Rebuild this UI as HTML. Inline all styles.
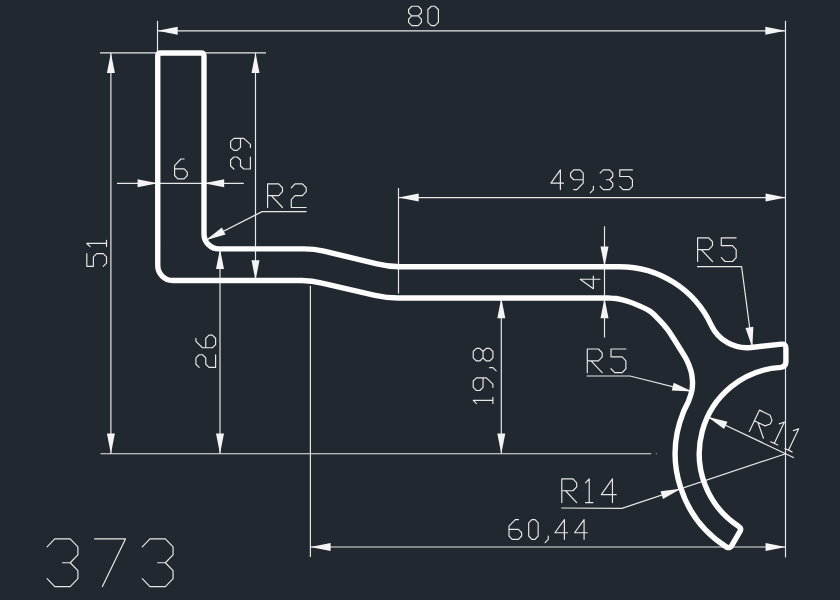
<!DOCTYPE html>
<html><head><meta charset="utf-8"><title>373</title>
<style>html,body{margin:0;padding:0;background:#212830;overflow:hidden;font-family:"Liberation Sans",sans-serif}svg{display:block}</style></head>
<body><svg width="840" height="600" viewBox="0 0 840 600">
<rect width="840" height="600" fill="#212830"/>
<line x1="157.5" y1="20.8" x2="157.5" y2="52" stroke="#e8e8e8" stroke-width="1.18"/>
<line x1="785.5" y1="20.8" x2="785.5" y2="557.5" stroke="#e8e8e8" stroke-width="1.18"/>
<line x1="100" y1="52.8" x2="266" y2="52.8" stroke="#e8e8e8" stroke-width="1.18"/>
<line x1="100.5" y1="453.75" x2="651.25" y2="453.75" stroke="#e8e8e8" stroke-width="1.18"/>
<circle cx="656.3" cy="453.75" r="0.55" fill="#e8e8e8"/>
<line x1="398.5" y1="188" x2="398.5" y2="293.5" stroke="#e8e8e8" stroke-width="1.18"/>
<line x1="310.4" y1="285.8" x2="310.4" y2="557" stroke="#e8e8e8" stroke-width="1.18"/>
<line x1="157.5" y1="30.85" x2="785.5" y2="30.85" stroke="#e8e8e8" stroke-width="1.18"/>
<polygon points="157.50,30.85 177.70,34.85 177.70,26.85" fill="#f4f4f4"/>
<polygon points="785.50,30.85 765.30,26.85 765.30,34.85" fill="#f4f4f4"/>
<line x1="110.9" y1="52.8" x2="110.9" y2="453.75" stroke="#e8e8e8" stroke-width="1.18"/>
<polygon points="110.90,52.80 106.90,73.00 114.90,73.00" fill="#f4f4f4"/>
<polygon points="110.90,453.75 114.90,433.55 106.90,433.55" fill="#f4f4f4"/>
<line x1="255.5" y1="52.8" x2="255.5" y2="280.5" stroke="#e8e8e8" stroke-width="1.18"/>
<polygon points="255.50,52.80 251.50,73.00 259.50,73.00" fill="#f4f4f4"/>
<polygon points="255.50,280.50 259.50,260.30 251.50,260.30" fill="#f4f4f4"/>
<line x1="117" y1="183.3" x2="243.8" y2="183.3" stroke="#e8e8e8" stroke-width="1.18"/>
<polygon points="157.75,183.30 137.55,179.30 137.55,187.30" fill="#f4f4f4"/>
<polygon points="204.00,183.30 224.20,187.30 224.20,179.30" fill="#f4f4f4"/>
<line x1="220" y1="248.9" x2="220" y2="453.75" stroke="#e8e8e8" stroke-width="1.18"/>
<polygon points="220.00,248.90 216.00,269.10 224.00,269.10" fill="#f4f4f4"/>
<polygon points="220.00,453.75 224.00,433.55 216.00,433.55" fill="#f4f4f4"/>
<line x1="501.3" y1="298" x2="501.3" y2="453.75" stroke="#e8e8e8" stroke-width="1.18"/>
<polygon points="501.30,298.00 497.30,318.20 505.30,318.20" fill="#f4f4f4"/>
<polygon points="501.30,453.75 505.30,433.55 497.30,433.55" fill="#f4f4f4"/>
<line x1="604.5" y1="226.3" x2="604.5" y2="337.5" stroke="#e8e8e8" stroke-width="1.18"/>
<polygon points="604.50,266.70 608.50,246.50 600.50,246.50" fill="#f4f4f4"/>
<polygon points="604.50,298.00 600.50,318.20 608.50,318.20" fill="#f4f4f4"/>
<line x1="398.5" y1="197.6" x2="785.75" y2="197.6" stroke="#e8e8e8" stroke-width="1.18"/>
<polygon points="398.50,197.60 418.70,201.60 418.70,193.60" fill="#f4f4f4"/>
<polygon points="785.75,197.60 765.55,193.60 765.55,201.60" fill="#f4f4f4"/>
<line x1="310.4" y1="547" x2="785.75" y2="547" stroke="#e8e8e8" stroke-width="1.18"/>
<polygon points="310.40,547.00 330.60,551.00 330.60,543.00" fill="#f4f4f4"/>
<polygon points="785.75,547.00 765.55,543.00 765.55,551.00" fill="#f4f4f4"/>
<polyline points="306.5,211.7 262,211.7 205.7,240.2" fill="none" stroke="#e8e8e8" stroke-width="1.18"/>
<polygon points="205.70,240.20 225.51,234.58 221.88,227.46" fill="#f4f4f4"/>
<polyline points="697,266.6 741.6,266.6 752.3,347.4" fill="none" stroke="#e8e8e8" stroke-width="1.18"/>
<polygon points="752.30,347.40 753.40,326.84 745.48,327.97" fill="#f4f4f4"/>
<polyline points="586.7,376 630,376 692.3,391.6" fill="none" stroke="#e8e8e8" stroke-width="1.18"/>
<polygon points="692.30,391.60 673.68,382.81 671.73,390.57" fill="#f4f4f4"/>
<line x1="707.5" y1="416.8" x2="794" y2="457.7" stroke="#e8e8e8" stroke-width="1.18"/>
<polygon points="707.50,416.80 724.07,429.02 727.48,421.78" fill="#f4f4f4"/>
<polyline points="561.25,508 622,508.3 785.75,453.75" fill="none" stroke="#e8e8e8" stroke-width="1.18"/>
<polygon points="680.90,488.70 660.47,491.29 663.00,498.88" fill="#f4f4f4"/>
<path transform="translate(408.6,25.6) rotate(0)" d="M3.20,0.00 L9.60,0.00 L12.80,-3.22 L12.80,-6.44 L9.60,-9.66 L12.80,-12.88 L12.80,-16.10 L9.60,-19.32 L3.20,-19.32 L0.00,-16.10 L0.00,-12.88 L3.20,-9.66 L0.00,-6.44 L0.00,-3.22 L3.20,0.00 M3.20,-9.66 L9.60,-9.66" fill="none" stroke="#e8e8e8" stroke-width="1.18" stroke-linecap="round" stroke-linejoin="round"/>
<path transform="translate(427.9,25.6) rotate(0)" d="M0.00,-3.22 L0.00,-16.10 L3.50,-19.32 L7.00,-19.32 L10.50,-16.10 L10.50,-3.22 L7.00,0.00 L3.50,0.00 L0.00,-3.22" fill="none" stroke="#e8e8e8" stroke-width="1.18" stroke-linecap="round" stroke-linejoin="round"/>
<path transform="translate(550.9,189.6) rotate(0)" d="M9.48,0.00 L9.48,-19.68 L0.00,-6.56 L12.64,-6.56 M22.84,0.00 L26.00,0.00 L32.32,-6.56 L32.32,-16.40 L29.16,-19.68 L22.84,-19.68 L19.68,-16.40 L19.68,-13.12 L22.84,-9.84 L32.32,-9.84 M42.52,-3.28 L42.52,0.00 L39.36,3.28 M49.20,-16.40 L52.36,-19.68 L58.68,-19.68 L61.84,-16.40 L61.84,-13.12 L58.68,-9.84 L55.52,-9.84 M58.68,-9.84 L61.84,-6.56 L61.84,-3.28 L58.68,0.00 L52.36,0.00 L49.20,-3.28 M68.88,-3.28 L72.04,0.00 L78.36,0.00 L81.52,-3.28 L81.52,-9.84 L78.36,-13.12 L68.88,-13.12 L68.88,-19.68 L81.52,-19.68" fill="none" stroke="#e8e8e8" stroke-width="1.18" stroke-linecap="round" stroke-linejoin="round"/>
<path transform="translate(509.0,539.3) rotate(0)" d="M9.48,-19.68 L6.32,-19.68 L0.00,-13.12 L0.00,-3.28 L3.16,0.00 L9.48,0.00 L12.64,-3.28 L12.64,-6.56 L9.48,-9.84 L0.00,-9.84 M19.68,-3.28 L19.68,-16.40 L22.84,-19.68 L26.00,-19.68 L29.16,-16.40 L29.16,-3.28 L26.00,0.00 L22.84,0.00 L19.68,-3.28 M39.24,-3.28 L39.24,0.00 L36.08,3.28 M55.40,0.00 L55.40,-19.68 L45.92,-6.56 L58.56,-6.56 M75.08,0.00 L75.08,-19.68 L65.60,-6.56 L78.24,-6.56" fill="none" stroke="#e8e8e8" stroke-width="1.18" stroke-linecap="round" stroke-linejoin="round"/>
<path transform="translate(174.6,178.8) rotate(0)" d="M9.51,-19.80 L6.34,-19.80 L0.00,-13.20 L0.00,-3.30 L3.17,0.00 L9.51,0.00 L12.68,-3.30 L12.68,-6.60 L9.51,-9.90 L0.00,-9.90" fill="none" stroke="#e8e8e8" stroke-width="1.18" stroke-linecap="round" stroke-linejoin="round"/>
<path transform="translate(250.4,169.0) rotate(-90)" d="M0.00,-16.50 L3.00,-19.80 L9.00,-19.80 L12.00,-16.50 L12.00,-13.20 L9.00,-9.90 L3.00,-9.90 L0.00,-6.60 L0.00,0.00 L12.00,0.00 M21.60,0.00 L24.60,0.00 L30.60,-6.60 L30.60,-16.50 L27.60,-19.80 L21.60,-19.80 L18.60,-16.50 L18.60,-13.20 L21.60,-9.90 L30.60,-9.90" fill="none" stroke="#e8e8e8" stroke-width="1.18" stroke-linecap="round" stroke-linejoin="round"/>
<path transform="translate(106.5,266.3) rotate(-90)" d="M0.00,-3.28 L3.16,0.00 L9.48,0.00 L12.64,-3.28 L12.64,-9.84 L9.48,-13.12 L0.00,-13.12 L0.00,-19.68 L12.64,-19.68 M19.68,0.00 L26.00,0.00 M22.84,0.00 L22.84,-19.68 L19.68,-16.40" fill="none" stroke="#e8e8e8" stroke-width="1.18" stroke-linecap="round" stroke-linejoin="round"/>
<path transform="translate(215.6,367.4) rotate(-90)" d="M0.00,-16.40 L3.16,-19.68 L9.48,-19.68 L12.64,-16.40 L12.64,-13.12 L9.48,-9.84 L3.16,-9.84 L0.00,-6.56 L0.00,0.00 L12.64,0.00 M29.16,-19.68 L26.00,-19.68 L19.68,-13.12 L19.68,-3.28 L22.84,0.00 L29.16,0.00 L32.32,-3.28 L32.32,-6.56 L29.16,-9.84 L19.68,-9.84" fill="none" stroke="#e8e8e8" stroke-width="1.18" stroke-linecap="round" stroke-linejoin="round"/>
<path transform="translate(492.9,403.6) rotate(-90)" d="M0.00,0.00 L6.32,0.00 M3.16,0.00 L3.16,-19.68 L0.00,-16.40 M16.28,0.00 L19.44,0.00 L25.76,-6.56 L25.76,-16.40 L22.60,-19.68 L16.28,-19.68 L13.12,-16.40 L13.12,-13.12 L16.28,-9.84 L25.76,-9.84 M35.96,-3.28 L35.96,0.00 L32.80,3.28 M45.80,0.00 L52.12,0.00 L55.28,-3.28 L55.28,-6.56 L52.12,-9.84 L55.28,-13.12 L55.28,-16.40 L52.12,-19.68 L45.80,-19.68 L42.64,-16.40 L42.64,-13.12 L45.80,-9.84 L42.64,-6.56 L42.64,-3.28 L45.80,0.00 M45.80,-9.84 L52.12,-9.84" fill="none" stroke="#e8e8e8" stroke-width="1.18" stroke-linecap="round" stroke-linejoin="round"/>
<path transform="translate(599.9,288.7) rotate(-90)" d="M9.48,0.00 L9.48,-19.68 L0.00,-6.56 L12.64,-6.56" fill="none" stroke="#e8e8e8" stroke-width="1.18" stroke-linecap="round" stroke-linejoin="round"/>
<path transform="translate(267.6,207.5) rotate(0)" d="M0.00,0.00 L0.00,-23.70 L11.16,-23.70 L14.88,-19.75 L14.88,-15.80 L11.16,-11.85 L0.00,-11.85 M3.72,-11.85 L14.88,0.00 M23.70,-19.75 L27.42,-23.70 L34.86,-23.70 L38.58,-19.75 L38.58,-15.80 L34.86,-11.85 L27.42,-11.85 L23.70,-7.90 L23.70,0.00 L38.58,0.00" fill="none" stroke="#e8e8e8" stroke-width="1.18" stroke-linecap="round" stroke-linejoin="round"/>
<path transform="translate(697.6,261.5) rotate(0)" d="M0.00,0.00 L0.00,-23.70 L11.16,-23.70 L14.88,-19.75 L14.88,-15.80 L11.16,-11.85 L0.00,-11.85 M3.72,-11.85 L14.88,0.00 M23.70,-3.95 L27.42,0.00 L34.86,0.00 L38.58,-3.95 L38.58,-11.85 L34.86,-15.80 L23.70,-15.80 L23.70,-23.70 L38.58,-23.70" fill="none" stroke="#e8e8e8" stroke-width="1.18" stroke-linecap="round" stroke-linejoin="round"/>
<path transform="translate(587.3,372.7) rotate(0)" d="M0.00,0.00 L0.00,-23.70 L11.16,-23.70 L14.88,-19.75 L14.88,-15.80 L11.16,-11.85 L0.00,-11.85 M3.72,-11.85 L14.88,0.00 M23.70,-3.95 L27.42,0.00 L34.86,0.00 L38.58,-3.95 L38.58,-11.85 L34.86,-15.80 L23.70,-15.80 L23.70,-23.70 L38.58,-23.70" fill="none" stroke="#e8e8e8" stroke-width="1.18" stroke-linecap="round" stroke-linejoin="round"/>
<path transform="translate(561.8,502.6) rotate(0)" d="M0.00,0.00 L0.00,-23.70 L11.16,-23.70 L14.88,-19.75 L14.88,-15.80 L11.16,-11.85 L0.00,-11.85 M3.72,-11.85 L14.88,0.00 M23.70,0.00 L31.14,0.00 M27.42,0.00 L27.42,-23.70 L23.70,-19.75 M50.66,0.00 L50.66,-23.70 L39.50,-7.90 L54.38,-7.90" fill="none" stroke="#e8e8e8" stroke-width="1.18" stroke-linecap="round" stroke-linejoin="round"/>
<path transform="translate(749.3,431.5) rotate(25.5)" d="M0.00,0.00 L0.00,-23.70 L11.76,-23.70 L15.68,-19.75 L15.68,-15.80 L11.76,-11.85 L0.00,-11.85 M3.92,-11.85 L15.68,0.00 M23.70,0.00 L31.54,0.00 M27.62,0.00 L27.62,-23.70 L23.70,-19.75 M39.50,0.00 L47.34,0.00 M43.42,0.00 L43.42,-23.70 L39.50,-19.75" fill="none" stroke="#e8e8e8" stroke-width="1.18" stroke-linecap="round" stroke-linejoin="round"/>
<path transform="translate(47.1,586.6) rotate(0)" d="M0.00,-39.75 L7.70,-47.70 L23.10,-47.70 L30.80,-39.75 L30.80,-31.80 L23.10,-23.85 L15.40,-23.85 M23.10,-23.85 L30.80,-15.90 L30.80,-7.95 L23.10,0.00 L7.70,0.00 L0.00,-7.95 M47.58,-47.70 L78.38,-47.70 L55.28,0.00 M95.16,-39.75 L102.86,-47.70 L118.26,-47.70 L125.96,-39.75 L125.96,-31.80 L118.26,-23.85 L110.56,-23.85 M118.26,-23.85 L125.96,-15.90 L125.96,-7.95 L118.26,0.00 L102.86,0.00 L95.16,-7.95" fill="none" stroke="#e8e8e8" stroke-width="1.18" stroke-linecap="round" stroke-linejoin="round"/>
<path d="M157.75,56.0 Q157.75,53.0 160.75,53.0 L201.0,53.0 Q204.0,53.0 204.0,56.0 L204.0,233.9 A15,15 0 0 0 219.0,248.9 L304,248.9 Q314,248.9 324,251.20000000000002 L377,263.8 Q389,266.7 400,266.7 L619.7,266.7 A100.9,100.9 0 0 1 711.22,325.12 A39.1,39.1 0 0 0 751.00,347.47 L781.6,344.15 Q785.9,343.7 785.9,348 L785.9,362 Q785.9,366.6 781,367.38 A86.5,86.5 0 0 0 738.45,526.17 Q741.85,528.28 739.82,531.73 L731.70,545.51 Q729.67,548.96 726.26,546.87 A110.5,110.5 0 0 1 683.24,412.50 C684.83,408.50 687.16,404.67 688.60,401.00 C690.04,397.33 691.25,393.79 691.90,390.50 C692.55,387.21 692.65,384.50 692.50,381.25 C692.35,378.00 692.00,374.62 691.00,371.00 C690.00,367.38 688.33,363.21 686.50,359.50 C684.67,355.79 682.12,352.21 680.00,348.75 C677.88,345.29 675.83,341.98 673.75,338.75 C671.67,335.52 670.00,332.62 667.50,329.40 C665.00,326.17 661.67,322.42 658.75,319.40 C655.83,316.38 653.33,313.55 650.00,311.25 C646.67,308.95 642.50,307.27 638.75,305.60 C635.00,303.93 631.25,302.43 627.50,301.25 C623.75,300.07 619.50,299.03 616.25,298.50 C613.00,297.97 611.38,298.13 608.00,298.05 C604.62,297.97 600.00,298.01 596.00,298.00 L398,298.0 Q387,298.0 375,295.4 L322,283.1 Q312,280.5 302,280.5 L172.75,280.5 A15,15 0 0 1 157.75,265.5 Z" fill="none" stroke="#fdfdfd" stroke-width="5.4" stroke-linejoin="round"/>
</svg></body></html>
